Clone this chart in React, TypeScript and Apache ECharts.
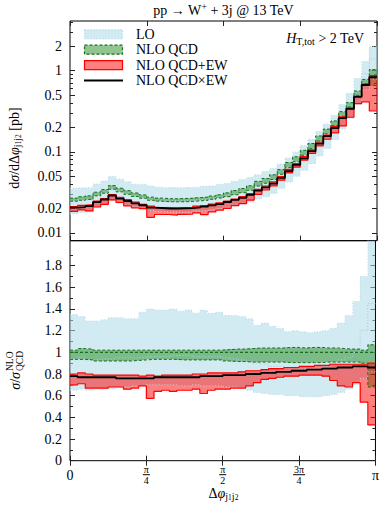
import React, { useEffect, useRef } from 'react';
import * as echarts from 'echarts';

const N_BINS = 40;
const PHI_MAX = Math.PI;

// NLO QCD central prediction, dσ/dΔφ [pb], one value per bin
const nloQcd = [
  0.0263, 0.027, 0.0278, 0.0311, 0.0335, 0.0375, 0.0348, 0.0325, 0.0304, 0.0288,
  0.027, 0.0263, 0.0259, 0.0258, 0.026, 0.0262, 0.0267, 0.0271, 0.0279, 0.0289,
  0.0304, 0.0323, 0.0342, 0.0368, 0.0415, 0.045, 0.05, 0.058, 0.0705, 0.083,
  0.1, 0.121, 0.15, 0.183, 0.231, 0.302, 0.392, 0.545, 0.765, 0.965,
];

// Ratios to NLO QCD central
const loLow = [
  0.65, 0.66, 0.65, 0.66, 0.66, 0.66, 0.67, 0.68, 0.69, 0.69,
  0.7, 0.7, 0.7, 0.7, 0.69, 0.69, 0.7, 0.69, 0.69, 0.69,
  0.68, 0.68, 0.67, 0.65, 0.63, 0.62, 0.61, 0.61, 0.6, 0.6,
  0.59, 0.59, 0.59, 0.6, 0.61, 0.63, 0.66, 0.7, 0.76, 0.82,
];
const loHigh = [
  1.35, 1.33, 1.29, 1.29, 1.3, 1.32, 1.32, 1.31, 1.31, 1.37,
  1.4, 1.39, 1.39, 1.4, 1.38, 1.39, 1.36, 1.39, 1.36, 1.37,
  1.34, 1.34, 1.33, 1.31, 1.25, 1.27, 1.24, 1.22, 1.19, 1.2,
  1.19, 1.18, 1.19, 1.2, 1.22, 1.27, 1.34, 1.47, 1.7, 2.05,
];
const loCentral = [
  0.94, 0.95, 0.93, 0.93, 0.94, 0.94, 0.95, 0.95, 0.95, 0.95,
  0.96, 0.96, 0.96, 0.97, 0.97, 0.97, 0.96, 0.96, 0.96, 0.96,
  0.95, 0.94, 0.93, 0.92, 0.9, 0.89, 0.87, 0.87, 0.86, 0.86,
  0.85, 0.85, 0.86, 0.87, 0.9, 0.93, 0.95, 1.0, 1.2, 1.45,
];
const qcdLow = [
  0.935, 0.935, 0.93, 0.92, 0.92, 0.92, 0.92, 0.92, 0.925, 0.93,
  0.935, 0.935, 0.935, 0.935, 0.93, 0.93, 0.93, 0.93, 0.93, 0.93,
  0.92, 0.915, 0.915, 0.91, 0.91, 0.91, 0.91, 0.91, 0.905, 0.905,
  0.905, 0.905, 0.905, 0.91, 0.91, 0.91, 0.91, 0.91, 0.9, 0.68,
];
const qcdHigh = [
  1.02, 1.035, 1.03, 1.02, 1.02, 1.02, 1.02, 1.02, 1.02, 1.02,
  1.02, 1.02, 1.02, 1.02, 1.02, 1.02, 1.02, 1.02, 1.02, 1.02,
  1.025, 1.03, 1.03, 1.035, 1.04, 1.04, 1.04, 1.04, 1.045, 1.045,
  1.04, 1.045, 1.045, 1.04, 1.04, 1.035, 1.03, 1.03, 1.02, 1.07,
];
const ewLow = [
  0.7, 0.71, 0.67, 0.67, 0.67, 0.68, 0.68, 0.66, 0.67, 0.69,
  0.575, 0.64, 0.65, 0.64, 0.65, 0.65, 0.66, 0.62, 0.65, 0.66,
  0.66, 0.67, 0.67, 0.69, 0.72, 0.75, 0.76, 0.77, 0.78, 0.78,
  0.79, 0.79, 0.79, 0.78, 0.74, 0.69, 0.68, 0.72, 0.54, 0.33,
];
const ewHigh = [
  0.8, 0.81, 0.8, 0.79, 0.79, 0.79, 0.79, 0.79, 0.79, 0.78,
  0.79, 0.78, 0.79, 0.79, 0.79, 0.79, 0.8, 0.8, 0.81, 0.81,
  0.81, 0.81, 0.82, 0.83, 0.83, 0.84, 0.85, 0.85, 0.86, 0.86,
  0.87, 0.87, 0.88, 0.88, 0.89, 0.89, 0.89, 0.89, 0.89, 0.9,
];
const qcdTimesEw = [
  0.78, 0.77, 0.77, 0.77, 0.77, 0.77, 0.76, 0.76, 0.76, 0.76,
  0.76, 0.77, 0.77, 0.77, 0.77, 0.77, 0.77, 0.78, 0.78, 0.78,
  0.79, 0.79, 0.79, 0.8, 0.8, 0.81, 0.81, 0.82, 0.82, 0.83,
  0.83, 0.84, 0.84, 0.85, 0.85, 0.86, 0.86, 0.87, 0.87, 0.86,
];

const xTickValues = [0, Math.PI / 4, Math.PI / 2, (3 * Math.PI) / 4, Math.PI];
const xTickLabels = ['0', 'π/4', 'π/2', '3π/4', 'π'];
const topTickValues = [0.01, 0.02, 0.05, 0.1, 0.2, 0.5, 1, 2];
const topTickLabels = ['0.01', '0.02', '0.05', '0.1', '0.2', '0.5', '1', '2'];
const topMinorTicks = [0.03, 0.04, 0.06, 0.07, 0.08, 0.09, 0.3, 0.4, 0.6, 0.7, 0.8, 0.9, 3, 4];
const ratioTickValues = [0, 0.2, 0.4, 0.6, 0.8, 1, 1.2, 1.4, 1.6, 1.8];
const ratioTickLabels = ['0', '0.2', '0.4', '0.6', '0.8', '1', '1.2', '1.4', '1.6', '1.8'];
const ratioMinorTicks = [0.1, 0.3, 0.5, 0.7, 0.9, 1.1, 1.3, 1.5, 1.7, 1.9];

const SERIF = 'Liberation Serif';
const FS = 14;
const LO_FILL = 'rgba(173,216,230,0.55)';
const LO_EDGE = '#b4dcea';
const QCD_FILL = 'rgba(34,139,34,0.5)';
const QCD_EDGE = '#1a6e1a';
const EW_FILL = 'rgba(255,0,0,0.5)';
const EW_EDGE = '#ff0000';

const edges = Array.from({ length: N_BINS + 1 }, (_, k) => (k * PHI_MAX) / N_BINS);
// histogram outline: each bin contributes its left and right corner
const steps = (vals: number[]) =>
  vals.flatMap((v, k) => [
    [edges[k], v],
    [edges[k + 1], v],
  ]);
const times = (r: number[], base: number[]) => r.map((v, i) => v * base[i]);

function pick(values: number[], labels: string[], v: number) {
  let best = 0;
  values.forEach((t, i) => {
    if (Math.abs(t - v) < Math.abs(values[best] - v)) best = i;
  });
  return labels[best];
}

function line(name: string, vals: number[], xi: number, yi: number, lineStyle: any) {
  return {
    type: 'line', name, data: steps(vals), xAxisIndex: xi, yAxisIndex: yi,
    symbol: 'none', showSymbol: false, silent: true, lineStyle,
  };
}

function bandFill(id: string, low: number[], high: number[], xi: number, yi: number, fill: string) {
  return {
    type: 'custom', name: id, xAxisIndex: xi, yAxisIndex: yi, clip: true, silent: true,
    data: low.map((l, k) => [edges[k], edges[k + 1], l, high[k]]),
    encode: { x: [0, 1], y: [2, 3] },
    renderItem: (_params: any, api: any) => {
      const p0 = api.coord([api.value(0), api.value(3)]);
      const p1 = api.coord([api.value(1), api.value(2)]);
      const x0 = Math.round(p0[0]);
      const x1 = Math.round(p1[0]);
      return {
        type: 'rect',
        shape: { x: x0, y: p0[1], width: x1 - x0, height: p1[1] - p0[1] },
        style: { fill },
      };
    },
  };
}

function band(id: string, low: number[], high: number[], xi: number, yi: number, fill: string, edge: any) {
  return [
    bandFill(id, low, high, xi, yi, fill),
    line(id + '-low', low, xi, yi, edge),
    line(id + '-high', high, xi, yi, edge),
  ];
}

function panelSeries(scale: (r: number[]) => number[], xi: number, yi: number, p: string, withCentral: boolean) {
  const loEdge = { color: LO_EDGE, width: 1, type: [1, 2] };
  const qcdEdge = { color: QCD_EDGE, width: 1, type: [3, 2] };
  const ewEdge = { color: EW_EDGE, width: 1.2 };
  const s: any[] = [
    ...band(p + 'lo', scale(loLow), scale(loHigh), xi, yi, LO_FILL, loEdge),
    line(p + 'loC', scale(loCentral), xi, yi, { color: '#9fcfe0', width: 1.2, type: [1, 2] }),
    ...band(p + 'qcd', scale(qcdLow), scale(qcdHigh), xi, yi, QCD_FILL, qcdEdge),
  ];
  if (withCentral) {
    s.push(line(p + 'qcdC', scale(nloQcd.map((v) => v / v)), xi, yi, { color: QCD_EDGE, width: 1.2, type: [3, 2] }));
  }
  s.push(...band(p + 'ew', scale(ewLow), scale(ewHigh), xi, yi, EW_FILL, ewEdge));
  s.push(line(p + 'qcdxew', scale(qcdTimesEw), xi, yi, { color: '#000', width: 1.8 }));
  return s;
}

const labelFont = { fontFamily: SERIF, fontSize: FS, color: '#000' };

function yAxes(gridIndex: number, type: string, min: number, max: number, major: number[], labels: string[], minor: number[]) {
  const base: any = {
    gridIndex, type, min, max,
    axisLine: { show: false }, splitLine: { show: false },
  };
  if (type === 'log') base.logBase = 10;
  const tick = (vals: number[], len: number) => ({
    show: true, inside: true, length: len, customValues: vals, lineStyle: { color: '#222', width: 1 },
  });
  return [
    {
      ...base, position: 'left', axisTick: tick(major, 5),
      axisLabel: { show: true, customValues: major, margin: 8, formatter: (v: number) => pick(major, labels, v), ...labelFont },
    },
    { ...base, position: 'left', axisTick: tick(minor, 3), axisLabel: { show: false } },
    { ...base, position: 'right', axisTick: tick(major, 5), axisLabel: { show: false } },
    { ...base, position: 'right', axisTick: tick(minor, 3), axisLabel: { show: false } },
  ];
}

function xAxes(gridIndex: number, withLabels: boolean) {
  const base: any = {
    gridIndex, type: 'value', min: 0, max: PHI_MAX,
    axisLine: { show: false }, splitLine: { show: false },
    axisTick: { show: true, inside: true, length: 5, customValues: xTickValues, lineStyle: { color: '#222' } },
  };
  const labels = withLabels
    ? {
        show: true, customValues: xTickValues, margin: 3.5,
        formatter: (v: number) => {
          const s = pick(xTickValues, xTickLabels, v);
          if (s.includes('/')) {
            const [n, d] = s.split('/');
            return `{num|${n}}\n{${n.length > 1 ? 'barw' : 'bar'}| }\n{den|${d}}`;
          }
          return `{one|${s}}`;
        },
        rich: {
          num: { fontFamily: SERIF, fontSize: 10, lineHeight: 10, color: '#000', align: 'center' },
          den: { fontFamily: SERIF, fontSize: 10, lineHeight: 11, color: '#000', align: 'center' },
          bar: { width: 7, height: 1, lineHeight: 1, backgroundColor: '#000', align: 'center' },
          barw: { width: 12, height: 1, lineHeight: 1, backgroundColor: '#000', align: 'center' },
          one: { fontFamily: SERIF, fontSize: FS, lineHeight: 22, color: '#000' },
        },
      }
    : { show: false };
  return [
    { ...base, position: 'bottom', axisLabel: labels },
    { ...base, position: 'top', axisLabel: { show: false } },
  ];
}

const tok = (size: number, extra: any = {}) => ({ fontFamily: SERIF, fontSize: size, fill: '#000', ...extra });
const mainRich = {
  a: tok(FS, { lineHeight: 16 }),
  i: tok(FS, { lineHeight: 16, fontStyle: 'italic' }),
  s: tok(10, { lineHeight: 8, verticalAlign: 'bottom' }),
  ss: tok(7.5, { lineHeight: 4, verticalAlign: 'bottom' }),
  sup: tok(9.5, { lineHeight: 8, verticalAlign: 'top' }),
};

const legendRows = [
  { label: 'LO', fill: LO_FILL, stroke: '#a6d5e6', dash: [1, 2] },
  { label: 'NLO QCD', fill: QCD_FILL, stroke: QCD_EDGE, dash: [3, 2] },
  { label: 'NLO QCD+EW', fill: EW_FILL, stroke: EW_EDGE, dash: null },
  { label: 'NLO QCD×EW', fill: null, stroke: '#000', dash: null },
];

function legendGraphics() {
  const out: any[] = [];
  legendRows.forEach((r, i) => {
    const cy = 34.3 + i * 15.4;
    if (r.fill) {
      out.push({
        type: 'rect', shape: { x: 84.5, y: cy - 4.5, width: 38, height: 9 },
        style: { fill: r.fill, stroke: r.stroke, lineWidth: 1.2, lineDash: r.dash || undefined },
      });
    } else {
      out.push({ type: 'line', shape: { x1: 84, y1: cy, x2: 123, y2: cy }, style: { stroke: r.stroke, lineWidth: 1.8 } });
    }
    out.push({
      type: 'text', x: 136, y: cy,
      style: { text: r.label, fontFamily: SERIF, fontSize: FS, fill: '#000', align: 'left', verticalAlign: 'middle' },
    });
  });
  return out;
}

const option: any = {
  animation: false,
  backgroundColor: '#fff',
  grid: [
    { left: 70, top: 21, width: 307, height: 219.7, show: true, borderColor: '#000', borderWidth: 1, containLabel: false },
    { left: 70, top: 240.7, width: 307, height: 220, show: true, borderColor: '#000', borderWidth: 1, containLabel: false },
  ],
  xAxis: [...xAxes(0, false), ...xAxes(1, true)],
  yAxis: [
    ...yAxes(0, 'log', 0.008, 4.1, topTickValues, topTickLabels, topMinorTicks),
    ...yAxes(1, 'value', 0, 2.03, ratioTickValues, ratioTickLabels, ratioMinorTicks),
  ],
  series: [
    ...panelSeries((r) => times(r, nloQcd), 0, 0, 'top', false),
    ...panelSeries((r) => r, 2, 4, 'bot', true),
  ],
  graphic: [
    {
      type: 'text', x: 223.5, y: 10,
      style: { text: '{a|pp → W}{sup|+}{a| + 3j @ 13 TeV}', rich: mainRich, align: 'center', verticalAlign: 'middle', fill: '#000' },
    },
    {
      type: 'text', x: 364, y: 38,
      style: { text: '{i|H}{s|T,tot}{a| > 2 TeV}', rich: mainRich, align: 'right', verticalAlign: 'middle', fill: '#000' },
    },
    {
      type: 'text', x: 223.5, y: 493,
      style: { text: '{a|Δ}{i|φ}{s|j}{ss|1}{s|j}{ss|2}', rich: mainRich, align: 'center', verticalAlign: 'middle', fill: '#000' },
    },
    {
      type: 'group', x: 14, y: 148, rotation: Math.PI / 2,
      children: [
        {
          type: 'text', x: 0, y: 0,
          style: { text: '{a|d}{i|σ}{a|/dΔ}{i|φ}{s|j}{ss|1}{s|j}{ss|2}{a| [pb]}', rich: mainRich, align: 'center', verticalAlign: 'middle', fill: '#000' },
        },
      ],
    },
    {
      type: 'group', x: 15, y: 372, rotation: Math.PI / 2,
      children: [
        { type: 'text', x: 0, y: 0, style: { text: '{i|σ}{a|/}{i|σ}', rich: mainRich, align: 'right', verticalAlign: 'middle', fill: '#000' } },
        { type: 'text', x: 1, y: -5, style: { text: 'NLO', fontFamily: SERIF, fontSize: 9.5, fill: '#000', align: 'left', verticalAlign: 'middle' } },
        { type: 'text', x: 1, y: 4.5, style: { text: 'QCD', fontFamily: SERIF, fontSize: 9.5, fill: '#000', align: 'left', verticalAlign: 'middle' } },
      ],
    },
    ...legendGraphics(),
  ],
};

export default function App() {
  const ref = useRef<HTMLDivElement>(null);
  useEffect(() => {
    const chart = echarts.init(ref.current!, undefined, { renderer: 'svg' });
    chart.setOption(option);
    return () => chart.dispose();
  }, []);
  return (
    <div
      ref={ref}
      style={{ position: 'absolute', left: 0, top: 0, width: 382, height: 507, background: '#fff' }}
    />
  );
}
